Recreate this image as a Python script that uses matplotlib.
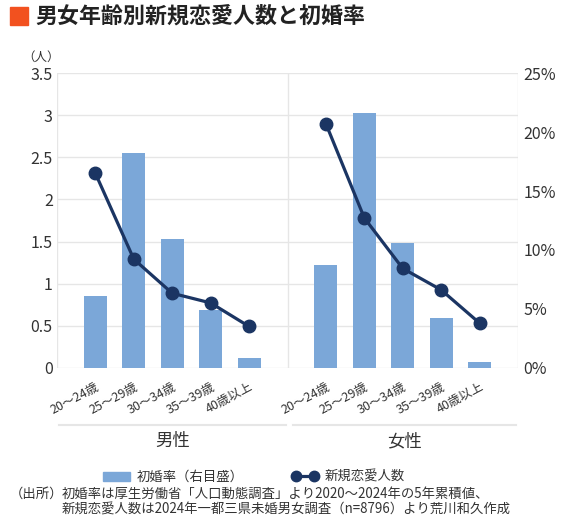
import matplotlib.pyplot as plt
from matplotlib.patches import Rectangle, Patch
from matplotlib.lines import Line2D
import matplotlib.transforms as mtransforms

plt.rcParams['font.family'] = ['Noto Sans CJK JP', 'DejaVu Sans']

# data
ages = ['20〜24歳', '25〜29歳', '30〜34歳', '35〜39歳', '40歳以上']
groups = ['男性', '女性']
# 新規恋愛人数 (left axis, 人)
male_new_love = [2.31, 1.29, 0.885, 0.77, 0.49]
female_new_love = [2.90, 1.78, 1.18, 0.925, 0.53]
# 初婚率 (right axis, %)
male_marriage = [6.1, 18.2, 10.9, 4.9, 0.8]
female_marriage = [8.7, 21.6, 10.6, 4.2, 0.5]

bar_color = '#7ba7d8'
line_color = '#1b3563'
grid_color = '#e6e6e6'
text_color = '#333333'

fig = plt.figure(figsize=(5.7, 5.19), dpi=100)

# title
fig.patches.append(Rectangle((10 / 570, 1 - 25 / 519), 18 / 570, 18 / 519,
                             transform=fig.transFigure, color='#f2511f'))
fig.text(35 / 570, 1 - 16.5 / 519, '男女年齢別新規恋愛人数と初婚率', fontsize=15.8,
         fontweight='bold', color='#222222', va='center', ha='left')

rect = [57 / 570, 1 - 367.7 / 519, (518 - 57) / 570, (367.7 - 73.3) / 519]
ax = fig.add_axes(rect)          # grid + left scale
ax2 = ax.twinx()                 # bars (right scale)
ax3 = ax.twinx()                 # line (left scale)

male_x = [1, 2, 3, 4, 5]
female_x = [7, 8, 9, 10, 11]

ax2.bar(male_x, male_marriage, width=0.6, color=bar_color)
ax2.bar(female_x, female_marriage, width=0.6, color=bar_color)

ax3.plot(male_x, male_new_love, color=line_color, lw=2.3, marker='o', ms=9)
ax3.plot(female_x, female_new_love, color=line_color, lw=2.3, marker='o', ms=9)

for a in (ax, ax2, ax3):
    a.set_xlim(0, 12)
    for s in a.spines.values():
        s.set_visible(False)
ax.set_ylim(0, 3.5)
ax3.set_ylim(0, 3.5)
ax2.set_ylim(0, 25)

ax.set_yticks([0, 0.5, 1, 1.5, 2, 2.5, 3, 3.5])
ax.set_yticklabels(['0', '0.5', '1', '1.5', '2', '2.5', '3', '3.5'])
ax.grid(axis='y', color=grid_color, lw=1)
for xv in (0, 6, 12):
    ax.axvline(xv, color=grid_color, lw=1)
ax.tick_params(axis='y', length=0, labelsize=11.5, labelcolor=text_color, pad=3)

ax2.set_yticks([0, 5, 10, 15, 20, 25])
ax2.set_yticklabels([f'{v}%' for v in [0, 5, 10, 15, 20, 25]])
ax2.tick_params(axis='y', length=0, labelsize=11.5, labelcolor=text_color, pad=4)
ax3.set_yticks([])

ax.set_xticks(male_x + female_x)
ax.set_xticklabels(ages + ages, rotation=28, ha='right', rotation_mode='anchor',
                   fontsize=9, color=text_color)
ax.tick_params(axis='x', length=0, pad=9)
ax2.tick_params(axis='x', length=0, labelbottom=False)
ax3.tick_params(axis='x', length=0, labelbottom=False)

# group separators and labels
trans = mtransforms.blended_transform_factory(ax.transData, ax.transAxes)
for (x0, x1), name in zip([(0.05, 5.95), (6.15, 11.95)], groups):
    ax.plot([x0, x1], [-0.194, -0.194], color=grid_color, lw=1.5,
            transform=trans, clip_on=False)
    ax.text((x0 + x1) / 2, -0.25, name, transform=trans, ha='center',
            va='center', fontsize=12.5, color=text_color)

fig.text(41 / 570, 1 - 57 / 519, '（人）', fontsize=9, color=text_color,
         ha='center', va='center')

# legend
handles = [Patch(color=bar_color),
           Line2D([], [], color=line_color, lw=2.3, marker='o', ms=7.5)]
fig.legend(handles, ['初婚率（右目盛）', '新規恋愛人数'], loc='center',
           bbox_to_anchor=(0.446, 1 - 477 / 519), ncol=2, frameon=False,
           fontsize=9.6, handlelength=2.0, columnspacing=3.6, numpoints=2,
           labelcolor=text_color, handletextpad=0.5)

fig.text(63 / 570, 1 - 494 / 519, '（出所）', fontsize=9.6, color=text_color,
         ha='right', va='center')
fig.text(62 / 570, 1 - 494 / 519,
         '初婚率は厚生労働省「人口動態調査」より2020〜2024年の5年累積値、',
         fontsize=9.6, color=text_color, ha='left', va='center')
fig.text(62 / 570, 1 - 510 / 519,
         '新規恋愛人数は2024年一都三県未婚男女調査（n=8796）より荒川和久作成',
         fontsize=9.6, color=text_color, ha='left', va='center')

fig.savefig('out.png', dpi=100)
